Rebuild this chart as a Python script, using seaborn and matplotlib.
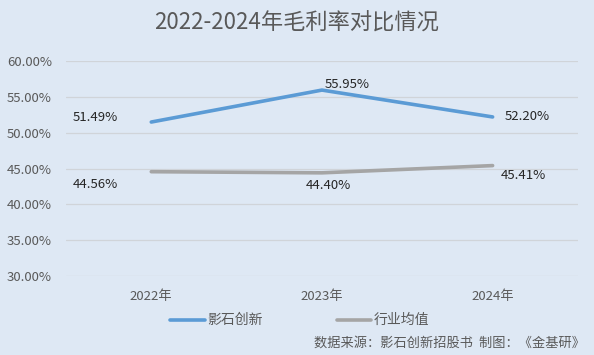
import pandas as pd
import seaborn as sns
import matplotlib.pyplot as plt
from matplotlib.ticker import FuncFormatter

# Données
years = ['2022年', '2023年', '2024年']
company = [51.49, 55.95, 52.20]
industry = [44.56, 44.40, 45.41]
series_names = ['影石创新', '行业均值']
colors = ['#5b9bd5', '#a5a5a5']

sns.set_theme(style='white')
plt.rcParams['font.family'] = ['Noto Sans CJK SC', 'DejaVu Sans']

bg = '#dee8f4'
txt = '#595959'

df = pd.DataFrame({
    'year': years * 2,
    'value': company + industry,
    'serie': [series_names[0]] * 3 + [series_names[1]] * 3,
})

fig = plt.figure(figsize=(5.94, 3.55), dpi=100, facecolor=bg)
ax = fig.add_axes([0.111, 0.2225, 0.862, 0.6055])
ax.set_facecolor(bg)

sns.lineplot(data=df, x='year', y='value', hue='serie', palette=colors,
             sort=False, linewidth=2.6, ax=ax, legend=False)

ax.set_ylim(30, 60)
ax.set_xlim(-0.5, 2.5)
ax.set_yticks(range(30, 61, 5))
ax.yaxis.set_major_formatter(FuncFormatter(lambda v, p: f'{v:.2f}%'))
ax.grid(axis='y', color='#d0d4d9', linewidth=0.9)
for s in ax.spines.values():
    s.set_visible(False)
ax.tick_params(axis='both', length=0, labelsize=9.5, labelcolor=txt)
ax.tick_params(axis='x', pad=10)
ax.tick_params(axis='y', pad=10)
ax.set_xlabel('')
ax.set_ylabel('')

# étiquettes des valeurs
offs_c = [(-0.33, 0.6), (0.15, 0.75), (0.2, 0.0)]
offs_i = [(-0.33, -1.8), (0.04, -1.75), (0.18, -1.35)]
for i in range(3):
    ax.text(i + offs_c[i][0], company[i] + offs_c[i][1], f'{company[i]:.2f}%',
            ha='center', va='center', fontsize=9.5, color='#262626')
    ax.text(i + offs_i[i][0], industry[i] + offs_i[i][1], f'{industry[i]:.2f}%',
            ha='center', va='center', fontsize=9.5, color='#262626')

fig.text(0.5, 0.935, '2022-2024年毛利率对比情况', ha='center', va='center',
         fontsize=16, color=txt)

# légende
for (x0, name, c) in [(0.287, series_names[0], colors[0]), (0.567, series_names[1], colors[1])]:
    fig.lines.append(plt.Line2D([x0, x0 + 0.058], [0.098, 0.098], color=c,
                                linewidth=2.6, transform=fig.transFigure))
    fig.text(x0 + 0.062, 0.098, name, ha='left', va='center', fontsize=10, color=txt)

fig.text(0.985, 0.032, '数据来源：影石创新招股书  制图：《金基研》', ha='right',
         va='center', fontsize=9.5, color=txt)

fig.savefig('out.png', dpi=100, facecolor=bg)
